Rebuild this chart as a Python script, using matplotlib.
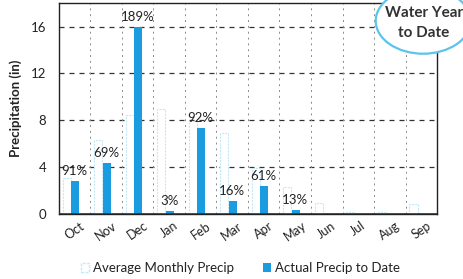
import matplotlib
matplotlib.use("Agg")
import matplotlib.pyplot as plt
from matplotlib.patches import Ellipse, Patch
import numpy as np

months = ["Oct", "Nov", "Dec", "Jan", "Feb", "Mar", "Apr", "May", "Jun", "Jul", "Aug", "Sep"]
avg_precip = [3.08, 6.3, 8.45, 9.0, 7.95, 6.9, 3.95, 2.3, 0.95, 0.2, 0.2, 0.85]
actual_precip = [2.8, 4.37, 15.95, 0.27, 7.35, 1.1, 2.4, 0.3, 0, 0, 0, 0]
pct_labels = ["91%", "69%", "189%", "3%", "92%", "16%", "61%", "13%", "", "", "", ""]
y_ticks = [0, 4, 8, 12, 16]

ACTUAL_COLOR = "#1b9be0"
AVG_EDGE = "#c4e8f8"
TEXT_COLOR = "#222222"

plt.rcParams["font.family"] = ["Lato", "DejaVu Sans"]

fig = plt.figure(figsize=(4.63, 2.79), dpi=100)
ax = fig.add_axes([0.127, 0.233, 0.817, 0.756])

x = np.arange(len(months))
ax.bar(x - 0.25, avg_precip, width=0.26, facecolor="white",
       edgecolor=AVG_EDGE, linewidth=0.8, linestyle=(0, (2, 1)), zorder=3)
ax.bar(x + 0.02, actual_precip, width=0.26, color=ACTUAL_COLOR, zorder=3)

for xi, val, lab in zip(x, actual_precip, pct_labels):
    if lab:
        ax.annotate(lab, xy=(xi, val), xytext=(0, 3), textcoords="offset points",
                    ha="center", va="bottom", fontsize=9.5, color=TEXT_COLOR, zorder=4)

ax.set_xlim(-0.5, 11.5)
ax.set_ylim(0, 18)
ax.set_yticks(y_ticks)
ax.set_xticks(x)
ax.set_xticklabels(months, rotation=35, ha="center", fontsize=9, color=TEXT_COLOR)
ax.tick_params(axis="y", labelsize=9.5, labelcolor=TEXT_COLOR, length=0, pad=9)
ax.tick_params(axis="x", length=0, pad=4)
ax.set_ylabel("Precipitation (in)", fontsize=9.5, fontweight="bold", color=TEXT_COLOR, labelpad=6)

# dashed grid
for yv in y_ticks[1:]:
    ax.axhline(yv, color="#333333", linewidth=0.9, linestyle=(0, (4, 4)), zorder=1)
for xv in np.arange(0.5, 11.5, 1):
    ax.axvline(xv, color="#8a8a8a", linewidth=0.7, linestyle=(0, (2, 4)), zorder=1)
ax.axhline(0, color="#333333", linewidth=1.2, zorder=4)

for sp in ax.spines.values():
    sp.set_color("#222222")
    sp.set_linewidth(1.0)

# "Water Year to Date" bubble
bubble = Ellipse((0.914, 0.925), width=0.205, height=0.235, transform=fig.transFigure,
                 facecolor="white", edgecolor="#5cc3ec", linewidth=1.6, zorder=10)
fig.patches.append(bubble)
fig.text(0.916, 0.918, "Water Year\nto Date", ha="center", va="center", fontsize=11,
         fontweight="bold", color="#333333", linespacing=1.5, zorder=11)

handles = [
    Patch(facecolor="white", edgecolor=AVG_EDGE, linestyle=(0, (2, 1)), label="Average Monthly Precip"),
    Patch(facecolor=ACTUAL_COLOR, label="Actual Precip to Date"),
]
fig.legend(handles=handles, loc="center", bbox_to_anchor=(0.52, 0.04), ncol=2, frameon=False,
           fontsize=9.5, handlelength=0.6, handleheight=0.7, handletextpad=0.3,
           columnspacing=2.2, labelcolor=TEXT_COLOR)

fig.savefig("out.png", dpi=100)
